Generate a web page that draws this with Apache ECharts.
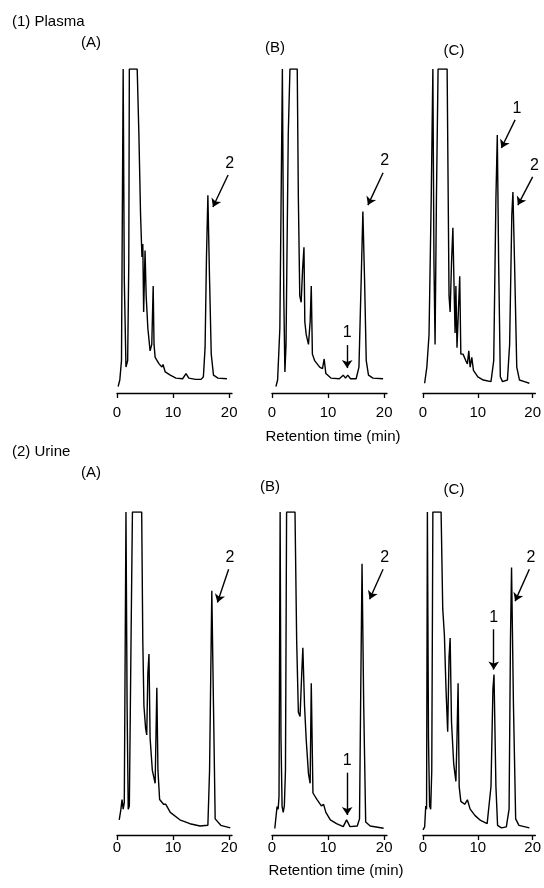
<!DOCTYPE html>
<html>
<head>
<meta charset="utf-8">
<script src="https://cdn.jsdelivr.net/npm/echarts@6/dist/echarts.min.js"></script>
<style>
  html, body { margin: 0; padding: 0; background: #fff; }
  #chartmain { width: 544px; height: 888px; }
</style>
</head>
<body>
<div id="chartmain"></div>
<script>
// retention time ticks (min)
var xTicks = [0, 10, 20];

// (1) Plasma traces: [time (min), detector response (% of clipped full scale)]
var plasmaA = [[0.2,2],[0.5,4],[0.8,10],[1.1,100],[1.3,35],[1.6,8],[1.9,10],[2.1,40],[2.2,100],[3.6,100],[3.9,80],[4.2,55],[4.45,42],[4.6,46],[4.75,25],[5.0,44],[5.2,30],[5.5,20],[5.9,13],[6.2,15],[6.45,33],[6.6,15],[6.8,11],[7.5,9],[8.0,8],[8.2,8.8],[8.6,6.5],[9.5,5.5],[10.5,4.6],[11.7,4.4],[12.3,6],[12.8,4.6],[14,4.2],[15.0,4.2],[15.4,5],[15.7,14],[15.95,42],[16.2,61],[16.5,35],[16.8,12],[17.2,5.5],[18,4.6],[19.6,4.4]];
var plasmaB = [[0.7,2],[1.0,4],[1.4,20],[1.85,100],[2.1,30],[2.3,6.5],[2.5,15],[2.9,80],[3.2,100],[4.5,100],[4.7,60],[4.95,30],[5.2,28],[5.45,38],[5.7,45],[5.85,22],[6.1,18],[6.5,15],[6.8,22],[7.0,33],[7.2,12],[7.6,10],[8.5,8],[9.0,7.5],[9.3,10.5],[9.6,6],[10.5,4.6],[12,4.4],[12.7,5.5],[13.1,4.6],[13.5,5.5],[14.0,4.4],[15.0,4.4],[15.5,8],[15.9,35],[16.2,56],[16.5,35],[16.8,10],[17.2,5.5],[18,4.6],[19.8,4.4]];
var plasmaC = [[0.3,3],[0.7,8],[1.1,18],[1.5,60],[1.8,100],[2.0,40],[2.2,15],[2.45,60],[2.75,100],[4.4,100],[4.75,30],[4.95,25],[5.2,40],[5.45,51],[5.7,30],[5.85,18.5],[6.0,33],[6.2,14],[6.45,25],[6.7,36],[6.9,12],[7.3,12],[7.8,10],[8.1,9],[8.35,13],[8.6,8],[8.9,11],[9.2,7],[10,5],[11,4],[12.4,3.5],[12.9,10],[13.3,60],[13.55,79.6],[13.8,40],[14.1,5],[14.5,3.5],[15.4,4],[15.8,15],[16.2,55],[16.4,62],[16.7,40],[17.1,8],[17.6,4],[18.5,3.5],[19.4,3]];

// (2) Urine traces
var urineA = [[0.4,4.7],[0.7,8],[0.9,11],[1.1,8],[1.3,10],[1.6,100],[1.8,40],[2.0,8],[2.2,9],[2.5,60],[2.75,100],[4.4,100],[4.6,60],[4.8,40],[5.1,33],[5.3,31],[5.5,50],[5.7,56],[5.9,30],[6.3,20],[6.8,16],[7.1,45.6],[7.3,20],[7.6,11],[8.3,9.5],[8.7,9.5],[9.5,7],[11.2,4.7],[13,3.5],[14.8,2.8],[16.2,3],[16.5,20],[16.9,75.6],[17.2,40],[17.5,5],[18.5,3],[20.2,2.2]];
var urineB = [[0.5,2],[0.9,8.8],[1.1,8],[1.25,12],[1.45,100],[1.6,30],[1.8,8.8],[2.0,7],[2.2,9],[2.4,20],[2.6,100],[4.1,100],[4.4,60],[4.7,38],[5.0,36.7],[5.3,50],[5.5,58],[5.8,40],[6.1,29.5],[6.5,19],[6.8,16],[7.0,47],[7.3,13],[8.0,11],[8.8,9],[9.2,9.5],[9.6,7],[10.4,4.7],[11.5,3.5],[12.7,2.6],[13.3,4.7],[13.9,2.6],[15.2,2.8],[15.6,5],[15.85,50],[16.05,84],[16.35,40],[16.7,4],[17.5,2.8],[19.9,2.1]];
var urineC = [[0.0,1.6],[0.3,2.5],[0.5,9],[0.65,8],[0.8,100],[1.0,30],[1.2,9],[1.4,8],[1.6,20],[1.8,100],[3.3,100],[3.6,70],[3.9,62],[4.2,45],[4.5,32],[4.75,55],[4.95,61],[5.2,35],[5.6,22],[6.0,16.6],[6.2,30],[6.4,47],[6.6,15],[6.9,10.4],[7.6,9.5],[8.1,10.9],[8.6,8],[9.5,6],[10.5,4.5],[11.7,3.5],[12.4,15],[12.75,45],[12.95,49.7],[13.3,15],[13.6,3],[14.3,2.2],[15.2,2.5],[15.7,8],[15.95,60],[16.15,82.8],[16.5,40],[16.9,5],[17.5,3],[19.4,2.2]];

// peak labels: name, arrow tail [min, resp], arrow head [min, resp]
var annPlasmaA = [{ name: '2', from: [19.8, 67.3], to: [17.1, 57.4] }];
var annPlasmaB = [{ name: '1', from: [13.4, 14.8], to: [13.4, 7.7] }, { name: '2', from: [19.8, 68], to: [17.1, 58] }];
var annPlasmaC = [{ name: '1', from: [16.8, 84.3], to: [14.3, 75.6] }, { name: '2', from: [20.0, 66.7], to: [17.3, 58] }];
var annUrineA = [{ name: '2', from: [19.9, 82.3], to: [17.9, 72] }];
var annUrineB = [{ name: '1', from: [13.4, 19.3], to: [13.4, 6.2] }, { name: '2', from: [19.8, 82.3], to: [17.4, 73] }];
var annUrineC = [{ name: '1', from: [12.9, 63.7], to: [12.9, 51.2] }, { name: '2', from: [19.4, 82.3], to: [16.8, 72.4] }];

var panels = [
  { data: plasmaA, ann: annPlasmaA, left: 117, top: 69, height: 324, margin: 12 },
  { data: plasmaB, ann: annPlasmaB, left: 272, top: 69, height: 324, margin: 12 },
  { data: plasmaC, ann: annPlasmaC, left: 423, top: 69, height: 324, margin: 12 },
  { data: urineA, ann: annUrineA, left: 117, top: 512, height: 323, margin: 5 },
  { data: urineB, ann: annUrineB, left: 272, top: 512, height: 323, margin: 5 },
  { data: urineC, ann: annUrineC, left: 423, top: 512, height: 323, margin: 5 }
];

var ink = '#000';
var fontFam = '"Liberation Sans", Arial, sans-serif';

function txt(text, x, y, size) {
  return {
    type: 'text', x: x, y: y, silent: true,
    style: { text: text, fill: ink, font: size + 'px ' + fontFam, textAlign: 'center', textVerticalAlign: 'middle' }
  };
}

var grids = [], xAxes = [], yAxes = [], series = [];
panels.forEach(function (p, i) {
  grids.push({ left: p.left, top: p.top, width: 115, height: p.height });
  xAxes.push({
    type: 'value', gridIndex: i, min: 0, max: 20.5,
    axisLine: { show: true, lineStyle: { color: ink, width: 1.3 } },
    axisTick: { show: true, customValues: xTicks, length: 5, lineStyle: { color: ink, width: 1.3 } },
    axisLabel: { customValues: xTicks, color: ink, fontSize: 15, fontFamily: fontFam, margin: p.margin },
    splitLine: { show: false }
  });
  yAxes.push({ type: 'value', gridIndex: i, min: 0, max: 100, show: false });
  series.push({
    type: 'line', xAxisIndex: i, yAxisIndex: i,
    data: p.data, showSymbol: false, symbol: 'none', clip: true,
    lineStyle: { color: ink, width: 1.4 },
    markLine: {
      silent: true, animation: false,
      symbol: ['none', 'arrow'], symbolSize: 8,
      lineStyle: { color: ink, width: 1.4, type: 'solid' },
      label: { show: true, position: 'start', formatter: '{b}', color: ink, fontSize: 16, fontFamily: fontFam, distance: 4 },
      data: p.ann.map(function (a) {
        return [{ name: a.name, coord: a.from }, { coord: a.to }];
      })
    }
  });
});

var myChart = echarts.init(document.getElementById('chartmain'), null, { renderer: 'canvas' });
myChart.setOption({
  animation: false,
  backgroundColor: '#fff',
  grid: grids,
  xAxis: xAxes,
  yAxis: yAxes,
  series: series,
  graphic: [
    { type: 'text', left: 12, top: 14, silent: true, style: { text: '(1) Plasma', fill: ink, font: '15px ' + fontFam } },
    txt('(A)', 91, 43, 15), txt('(B)', 275, 48, 15), txt('(C)', 454, 51, 15),
    txt('Retention time (min)', 333, 437, 15),
    { type: 'text', left: 12, top: 444, silent: true, style: { text: '(2) Urine', fill: ink, font: '15px ' + fontFam } },
    txt('(A)', 91, 473, 15), txt('(B)', 270, 487, 15), txt('(C)', 454, 490, 15),
    txt('Retention time (min)', 336, 871, 15)
  ]
});
</script>
</body>
</html>
